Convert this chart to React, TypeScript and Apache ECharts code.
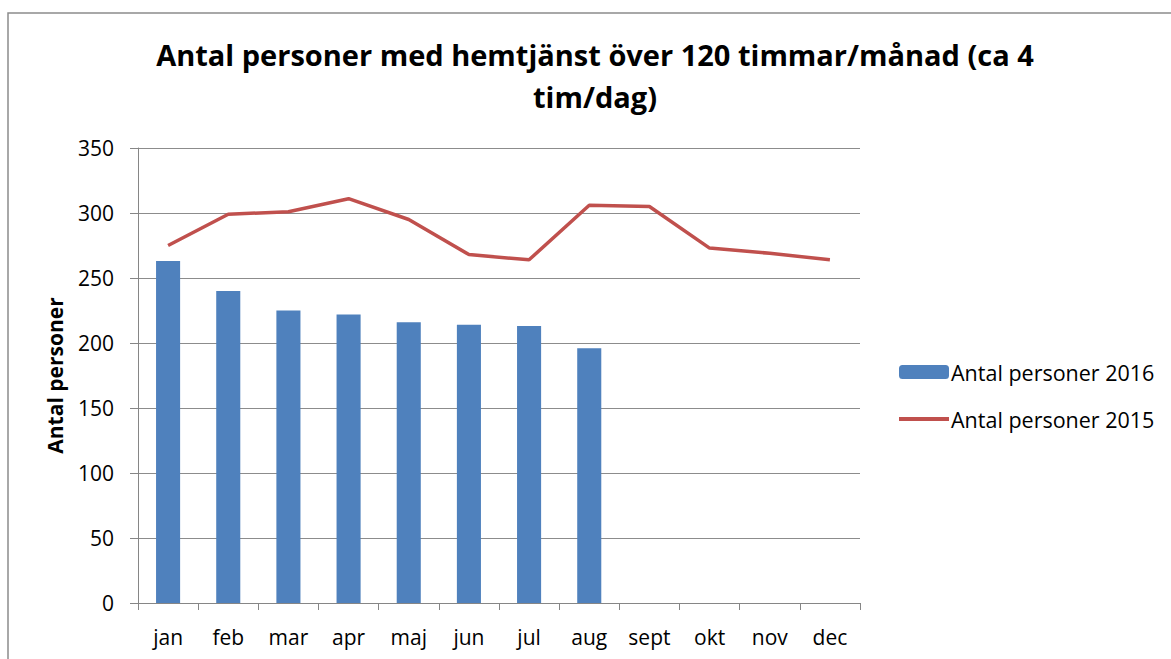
import React, { useEffect, useRef } from "react";
import * as echarts from "echarts";

const months = ["jan", "feb", "mar", "apr", "maj", "jun", "jul", "aug", "sept", "okt", "nov", "dec"];
const persons2016 = [263, 240, 225, 222, 216, 214, 213, 196, null, null, null, null];
const persons2015 = [275, 299, 301, 311, 295, 268, 264, 306, 305, 273, 269, 264];
const yTicks = { min: 0, max: 350, interval: 50 };
const titleText = "Antal personer med hemtjänst över 120 timmar/månad (ca 4\ntim/dag)";
const yAxisName = "Antal personer";
const seriesNames = ["Antal personer 2016", "Antal personer 2015"];

const FONT = "'Open Sans', sans-serif";

export default function App() {
  const ref = useRef<HTMLDivElement>(null);
  useEffect(() => {
    if (!ref.current) return;
    const chart = echarts.init(ref.current, null, { renderer: "svg" });
    chart.setOption({
      animation: false,
      backgroundColor: "#ffffff",
      textStyle: { fontFamily: FONT },
      graphic: [
        {
          type: "rect",
          shape: { x: 8, y: 13, width: 1300, height: 800 },
          style: { fill: "none", stroke: "#8c8c8c", lineWidth: 1.5 },
          silent: true,
        },
      ],
      title: {
        text: titleText,
        left: 595,
        textAlign: "center",
        top: 33,
        padding: 0,
        textStyle: {
          fontFamily: FONT,
          fontSize: 29,
          fontWeight: "bold",
          color: "#000",
          lineHeight: 42,
        },
      },
      legend: {
        orient: "vertical",
        left: 897,
        top: 361,
        padding: 0,
        itemWidth: 50,
        itemHeight: 14,
        itemGap: 25,
        textStyle: { fontFamily: FONT, fontSize: 21.5, lineHeight: 20, color: "#000", padding: [0, 0, 0, -3] },
        data: [
          { name: seriesNames[0] },
          {
            name: seriesNames[1],
            itemStyle: { opacity: 0 },
            lineStyle: { width: 4, color: "#C0504D" },
          },
        ],
      },
      grid: { left: 138, right: 311, top: 148, bottom: 56, containLabel: false },
      xAxis: {
        type: "category",
        data: months,
        boundaryGap: true,
        axisLine: { lineStyle: { color: "#868686", width: 1 } },
        axisTick: { show: true, length: 7, lineStyle: { color: "#868686" } },
        axisLabel: { fontFamily: FONT, fontSize: 21, color: "#000", margin: 23 },
        splitLine: { show: false },
      },
      yAxis: {
        type: "value",
        min: yTicks.min,
        max: yTicks.max,
        interval: yTicks.interval,
        name: yAxisName,
        nameLocation: "middle",
        nameGap: 73,
        nameRotate: 90,
        nameTextStyle: { fontFamily: FONT, fontSize: 21, fontWeight: "bold", color: "#000" },
        axisLine: { show: true, lineStyle: { color: "#868686", width: 1 } },
        axisTick: { show: true, length: 8, lineStyle: { color: "#868686" } },
        axisLabel: { fontFamily: FONT, fontSize: 21, color: "#000", margin: 24 },
        splitLine: { show: true, lineStyle: { color: "#8c8c8c", width: 1 } },
      },
      series: [
        {
          name: seriesNames[0],
          type: "bar",
          data: persons2016,
          barWidth: "40%",
          itemStyle: { color: "#4F81BD" },
        },
        {
          name: seriesNames[1],
          type: "line",
          data: persons2015,
          symbol: "none",
          lineStyle: { color: "#C0504D", width: 3.5 },
          itemStyle: { color: "#C0504D" },
        },
      ],
    });
    return () => chart.dispose();
  }, []);
  return (
    <div
      ref={ref}
      style={{ position: "absolute", left: 0, top: 0, width: 1171, height: 659 }}
    />
  );
}
